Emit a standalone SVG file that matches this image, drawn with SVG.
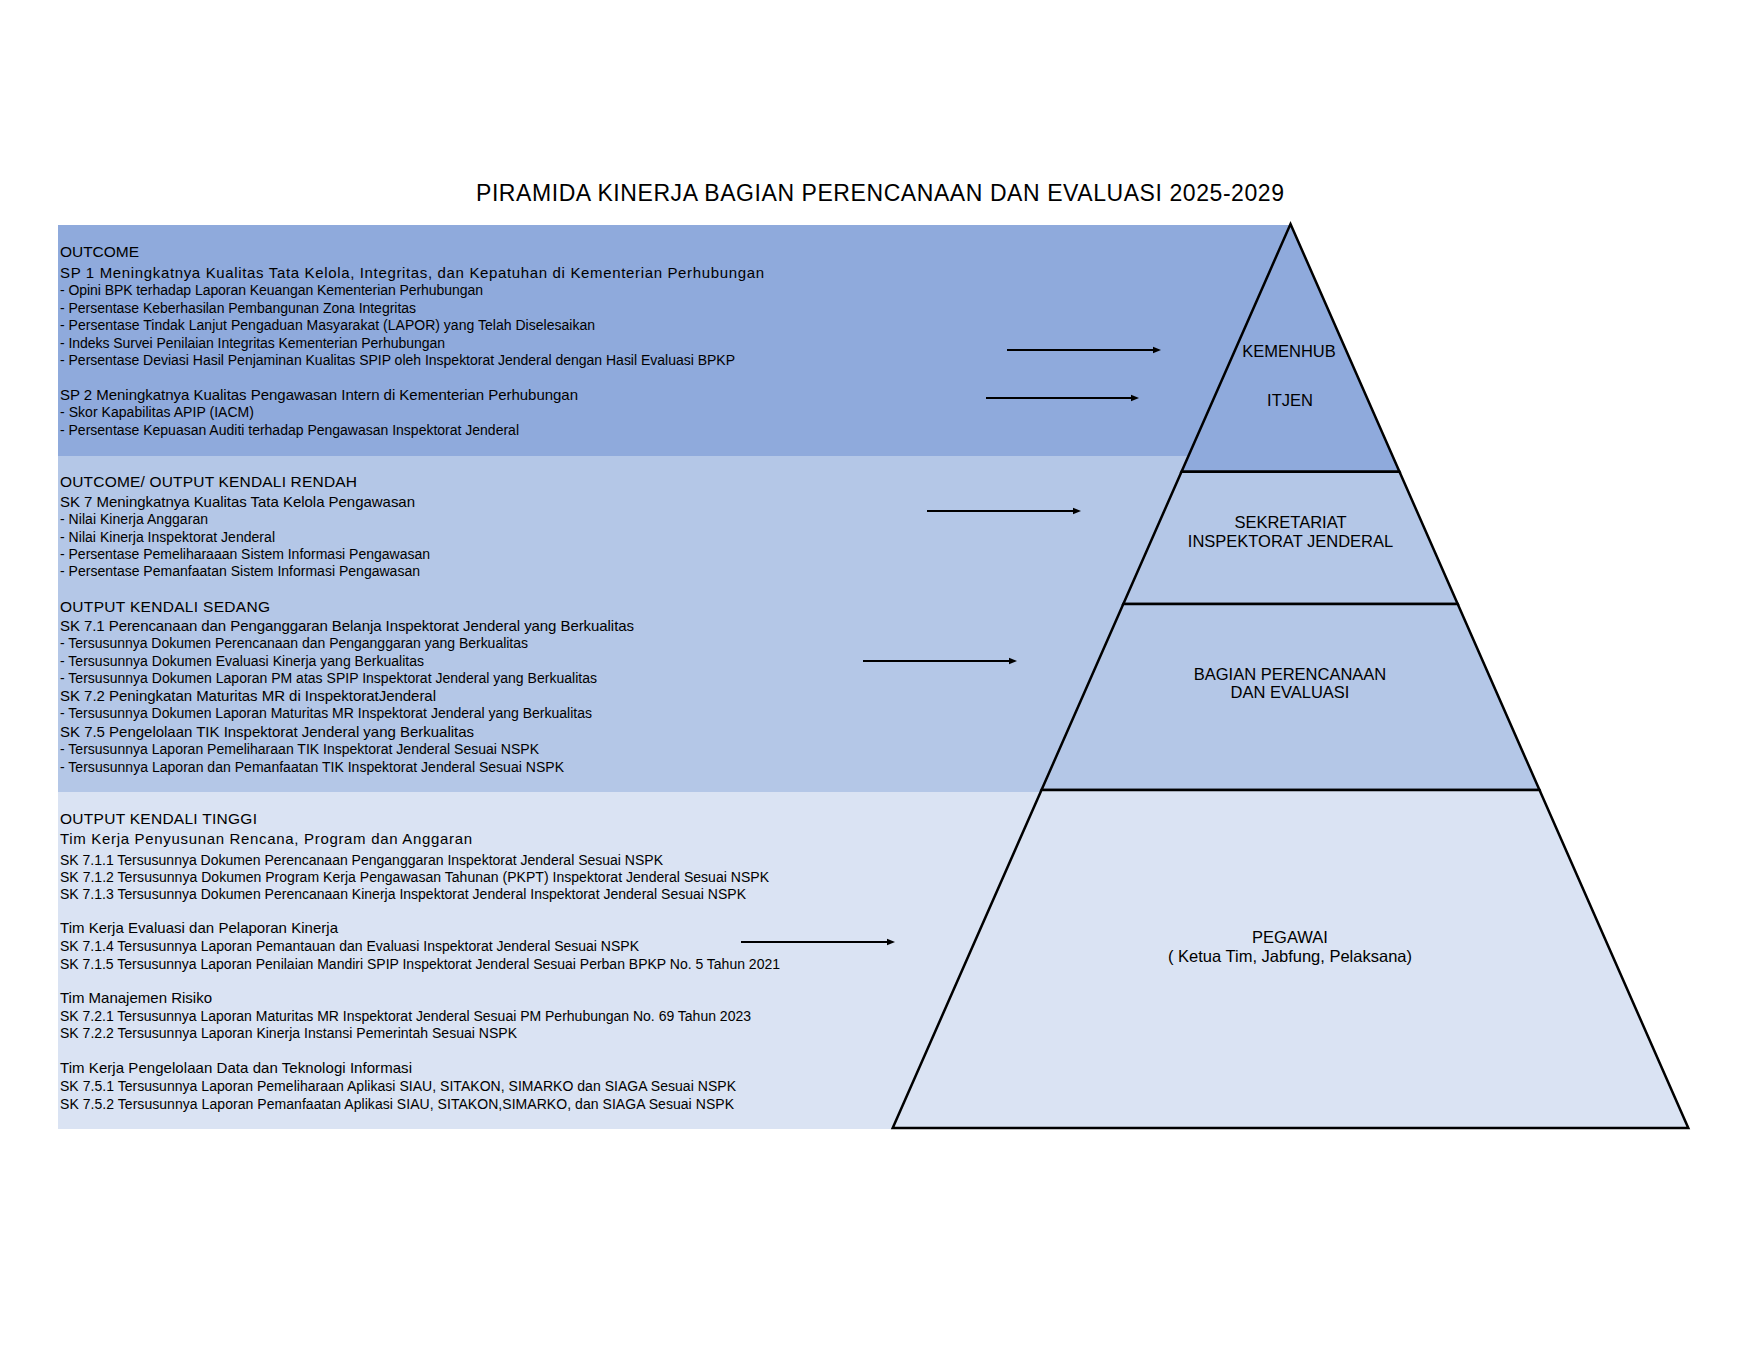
<svg xmlns="http://www.w3.org/2000/svg" width="1760" height="1360" viewBox="0 0 1760 1360">
<defs>
<style>
text{font-family:"Liberation Sans",Arial,Helvetica,sans-serif;fill:#000}
.t{font-size:23px}
.h{font-size:15.5px}
.s{font-size:15px}
.i{font-size:14px}
.p{font-size:16.5px;text-anchor:middle}
.lv{stroke:#000;stroke-width:2.5;stroke-linejoin:miter}
.arr{stroke:#000;stroke-width:2;fill:none;marker-end:url(#ah)}
</style>
<marker id="ah" markerUnits="userSpaceOnUse" markerWidth="9" markerHeight="8" refX="4.5" refY="4" orient="auto">
<path d="M0,0.5 L8.5,4 L0,7.5 z" fill="#000"/>
</marker>
</defs>
<rect width="1760" height="1360" fill="#fff"/>
<text class="t" x="476" y="201" textLength="808">PIRAMIDA KINERJA BAGIAN PERENCANAAN DAN EVALUASI 2025-2029</text>

<g id="bands">
<rect x="58" y="225" width="1232" height="231" fill="#8FAADC"/>
<rect x="58" y="456" width="1232" height="336" fill="#B4C7E7"/>
<rect x="58" y="792" width="1232" height="337" fill="#DAE3F3"/>
</g>

<g id="outcome">
<text class="h" x="60" y="257" textLength="79">OUTCOME</text>
<text class="s" x="60" y="278" textLength="704">SP 1 Meningkatnya Kualitas Tata Kelola, Integritas, dan Kepatuhan di Kementerian Perhubungan</text>
<text class="i" x="60" y="295.3" textLength="423">- Opini BPK terhadap Laporan Keuangan Kementerian Perhubungan</text>
<text class="i" x="60" y="312.7" textLength="356">- Persentase Keberhasilan Pembangunan Zona Integritas</text>
<text class="i" x="60" y="330.3" textLength="535">- Persentase Tindak Lanjut Pengaduan Masyarakat (LAPOR) yang Telah Diselesaikan</text>
<text class="i" x="60" y="347.7" textLength="385">- Indeks Survei Penilaian Integritas Kementerian Perhubungan</text>
<text class="i" x="60" y="364.7" textLength="675">- Persentase Deviasi Hasil Penjaminan Kualitas SPIP oleh Inspektorat Jenderal dengan Hasil Evaluasi BPKP</text>
<text class="s" x="60" y="400" textLength="518">SP 2 Meningkatnya Kualitas Pengawasan Intern di Kementerian Perhubungan</text>
<text class="i" x="60" y="417.3" textLength="194">- Skor Kapabilitas APIP (IACM)</text>
<text class="i" x="60" y="435.3" textLength="459">- Persentase Kepuasan Auditi terhadap Pengawasan Inspektorat Jenderal</text>
</g>

<g id="outcome-output-rendah">
<text class="h" x="60" y="487.3" textLength="297">OUTCOME/ OUTPUT  KENDALI RENDAH</text>
<text class="s" x="60" y="506.7" textLength="355">SK 7 Meningkatnya Kualitas Tata Kelola Pengawasan</text>
<text class="i" x="60" y="524.3" textLength="148">- Nilai Kinerja Anggaran</text>
<text class="i" x="60" y="542.3" textLength="215">- Nilai Kinerja Inspektorat Jenderal</text>
<text class="i" x="60" y="559.3" textLength="370">- Persentase Pemeliharaaan Sistem Informasi Pengawasan</text>
<text class="i" x="60" y="576.3" textLength="360">- Persentase Pemanfaatan Sistem Informasi Pengawasan</text>
</g>

<g id="output-sedang">
<text class="h" x="60" y="611.7" textLength="210">OUTPUT  KENDALI SEDANG</text>
<text class="s" x="60" y="631" textLength="574">SK 7.1 Perencanaan dan Penganggaran Belanja Inspektorat Jenderal yang Berkualitas</text>
<text class="i" x="60" y="648.3" textLength="468">- Tersusunnya Dokumen Perencanaan dan Penganggaran yang Berkualitas</text>
<text class="i" x="60" y="665.7" textLength="364">- Tersusunnya Dokumen Evaluasi Kinerja yang Berkualitas</text>
<text class="i" x="60" y="683.3" textLength="537">- Tersusunnya Dokumen Laporan PM atas SPIP Inspektorat Jenderal yang Berkualitas</text>
<text class="s" x="60" y="700.7" textLength="376">SK 7.2 Peningkatan Maturitas MR di InspektoratJenderal</text>
<text class="i" x="60" y="718.3" textLength="532">- Tersusunnya Dokumen Laporan Maturitas MR Inspektorat Jenderal yang Berkualitas</text>
<text class="s" x="60" y="736.7" textLength="414">SK 7.5 Pengelolaan TIK Inspektorat Jenderal yang Berkualitas</text>
<text class="i" x="60" y="754.3" textLength="479">- Tersusunnya Laporan Pemeliharaan TIK Inspektorat Jenderal Sesuai NSPK</text>
<text class="i" x="60" y="771.7" textLength="504">- Tersusunnya Laporan dan Pemanfaatan TIK Inspektorat Jenderal Sesuai NSPK</text>
</g>

<g id="output-tinggi">
<text class="h" x="60" y="824.3" textLength="197">OUTPUT  KENDALI TINGGI</text>
<text class="s" x="60" y="844.3" textLength="412">Tim Kerja Penyusunan Rencana, Program dan Anggaran</text>
<text class="i" x="60" y="865" textLength="603">SK 7.1.1 Tersusunnya Dokumen Perencanaan Penganggaran Inspektorat Jenderal Sesuai NSPK</text>
<text class="i" x="60" y="881.7" textLength="709">SK 7.1.2 Tersusunnya Dokumen Program Kerja Pengawasan Tahunan (PKPT) Inspektorat Jenderal Sesuai NSPK</text>
<text class="i" x="60" y="898.7" textLength="686">SK 7.1.3 Tersusunnya Dokumen Perencanaan Kinerja Inspektorat Jenderal Inspektorat Jenderal Sesuai NSPK</text>
<text class="s" x="60" y="932.7" textLength="278">Tim Kerja Evaluasi dan Pelaporan Kinerja</text>
<text class="i" x="60" y="950.7" textLength="579">SK 7.1.4 Tersusunnya Laporan Pemantauan dan Evaluasi Inspektorat Jenderal Sesuai NSPK</text>
<text class="i" x="60" y="968.7" textLength="720">SK 7.1.5 Tersusunnya Laporan Penilaian Mandiri SPIP Inspektorat Jenderal Sesuai Perban BPKP No. 5 Tahun 2021</text>
<text class="s" x="60" y="1002.7" textLength="152">Tim Manajemen Risiko</text>
<text class="i" x="60" y="1021.3" textLength="691">SK 7.2.1 Tersusunnya Laporan Maturitas MR Inspektorat Jenderal Sesuai PM Perhubungan No. 69 Tahun 2023</text>
<text class="i" x="60" y="1038.3" textLength="457">SK 7.2.2 Tersusunnya Laporan Kinerja Instansi Pemerintah Sesuai NSPK</text>
<text class="s" x="60" y="1072.7" textLength="352">Tim Kerja Pengelolaan Data dan Teknologi Informasi</text>
<text class="i" x="60" y="1090.7" textLength="676">SK 7.5.1 Tersusunnya Laporan Pemeliharaan Aplikasi SIAU, SITAKON, SIMARKO dan SIAGA Sesuai NSPK</text>
<text class="i" x="60" y="1109" textLength="674">SK 7.5.2 Tersusunnya Laporan Pemanfaatan Aplikasi SIAU, SITAKON,SIMARKO, dan SIAGA Sesuai NSPK</text>
</g>

<g id="level-kemenhub-itjen">
<polygon class="lv" points="1290.5,224 1399.5,471.7 1181.5,471.7" fill="#8FAADC"/>
<text class="p" x="1289" y="357">KEMENHUB</text>
<text class="p" x="1290" y="406">ITJEN</text>
</g>
<g id="level-sekretariat">
<polygon class="lv" points="1181.5,471.7 1399.5,471.7 1457.7,604 1123.3,604" fill="#B4C7E7"/>
<text class="p" x="1290.5" y="528">SEKRETARIAT</text>
<text class="p" x="1290.5" y="547">INSPEKTORAT JENDERAL</text>
</g>
<g id="level-bagian">
<polygon class="lv" points="1123.3,604 1457.7,604 1539.5,790 1041.5,790" fill="#B4C7E7"/>
<text class="p" x="1290" y="680">BAGIAN PERENCANAAN</text>
<text class="p" x="1290" y="698">DAN EVALUASI</text>
</g>
<g id="level-pegawai">
<polygon class="lv" points="1041.5,790 1539.5,790 1688.3,1128 892.7,1128" fill="#DAE3F3"/>
<text class="p" x="1290" y="943">PEGAWAI</text>
<text class="p" x="1290" y="962">( Ketua Tim, Jabfung, Pelaksana)</text>
</g>

<g id="connectors">
<line class="arr" x1="1007" y1="350" x2="1157" y2="350"/>
<line class="arr" x1="986" y1="398" x2="1135" y2="398"/>
<line class="arr" x1="927" y1="511" x2="1077" y2="511"/>
<line class="arr" x1="863" y1="661" x2="1013" y2="661"/>
<line class="arr" x1="741" y1="942" x2="891" y2="942"/>
</g>
</svg>
